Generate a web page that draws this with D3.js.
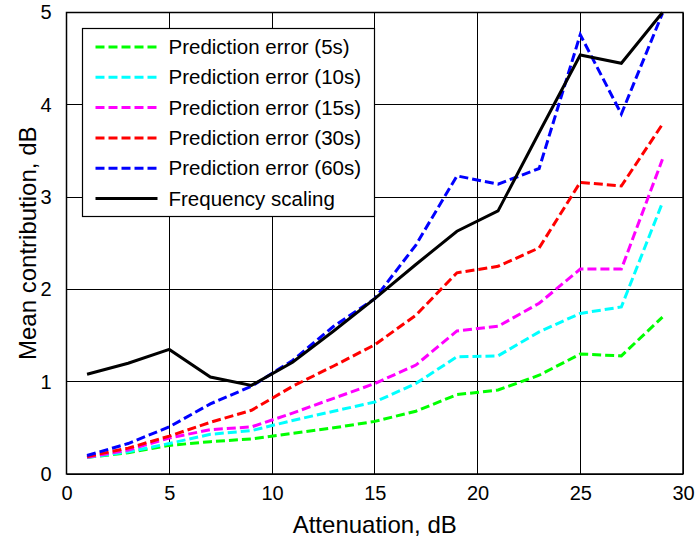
<!DOCTYPE html>
<html>
<head>
<meta charset="utf-8">
<script src="https://cdn.jsdelivr.net/npm/d3@7"></script>
<style>
  body { margin: 0; background: #fff; }
  svg { font-family: Arial, "Liberation Sans", Helvetica, sans-serif; }
</style>
</head>
<body>
<div id="chart"></div>
<script>
// attenuation values (dB)
const attenuation = [1, 3, 5, 7, 9, 11, 13, 15, 17, 19, 21, 23, 25, 27, 29];

const err5s  = [0.18, 0.23, 0.31, 0.35, 0.38, 0.44, 0.50, 0.57, 0.68, 0.86, 0.91, 1.07, 1.30, 1.28, 1.70];
const err10s = [0.18, 0.24, 0.33, 0.43, 0.47, 0.58, 0.68, 0.78, 0.98, 1.27, 1.28, 1.54, 1.74, 1.81, 2.94];
const err15s = [0.18, 0.26, 0.39, 0.48, 0.51, 0.66, 0.82, 0.98, 1.18, 1.55, 1.60, 1.85, 2.22, 2.22, 3.41];
const err30s = [0.19, 0.28, 0.41, 0.56, 0.69, 0.95, 1.17, 1.40, 1.72, 2.18, 2.25, 2.45, 3.16, 3.12, 3.79];
const err60s = [0.20, 0.33, 0.51, 0.76, 0.95, 1.23, 1.60, 1.90, 2.48, 3.23, 3.14, 3.31, 4.76, 3.90, 4.99];
const freqScaling = [1.08, 1.20, 1.35, 1.05, 0.96, 1.21, 1.55, 1.90, 2.27, 2.63, 2.85, 3.70, 4.54, 4.45, 5.00];

const seriesNames = ["Prediction error (5s)", "Prediction error (10s)", "Prediction error (15s)",
                     "Prediction error (30s)", "Prediction error (60s)", "Frequency scaling"];
const seriesColors = ["#00ff00", "#00ffff", "#ff00ff", "#ff0000", "#0000ff", "#000000"];
const seriesValues = [err5s, err10s, err15s, err30s, err60s, freqScaling];

const xTicks = [0, 5, 10, 15, 20, 25, 30];
const yTicks = [0, 1, 2, 3, 4, 5];

const W = 695, H = 539;
const margin = { top: 12.5, right: 12, bottom: 65, left: 66.5 };
const width = W - margin.left - margin.right;
const height = H - margin.top - margin.bottom;

const svg = d3.select("#chart").append("svg")
    .attr("width", W)
    .attr("height", H);

const g = svg.append("g")
    .attr("transform", `translate(${margin.left},${margin.top})`);

const x = d3.scaleLinear().domain([0, 30]).range([0, width]);
const y = d3.scaleLinear().domain([0, 5]).range([height, 0]);

// grid
g.append("g").selectAll("line")
    .data(xTicks)
    .enter().append("line")
    .attr("x1", d => x(d)).attr("x2", d => x(d))
    .attr("y1", 0).attr("y2", height)
    .attr("stroke", "#000").attr("stroke-width", 1).attr("shape-rendering", "crispEdges");

g.append("g").selectAll("line")
    .data(yTicks)
    .enter().append("line")
    .attr("y1", d => y(d)).attr("y2", d => y(d))
    .attr("x1", 0).attr("x2", width)
    .attr("stroke", "#000").attr("stroke-width", 1).attr("shape-rendering", "crispEdges");

// axes (labels only; ticks covered by grid)
const xAxis = g.append("g")
    .attr("transform", `translate(0,${height})`)
    .call(d3.axisBottom(x).tickValues(xTicks).tickFormat(d3.format("d")).tickSize(0).tickPadding(12));
const yAxis = g.append("g")
    .call(d3.axisLeft(y).tickValues(yTicks).tickFormat(d3.format("d")).tickSize(0).tickPadding(15));

[xAxis, yAxis].forEach(a => {
    a.select(".domain").remove();
    a.selectAll("text")
        .style("font-size", "20px")
        .style("font-family", "Arial, 'Liberation Sans', sans-serif")
        .attr("fill", "#000");
});

// frame
g.append("rect")
    .attr("width", width).attr("height", height)
    .attr("fill", "none").attr("stroke", "#000").attr("stroke-width", 1.5);

// lines
const line = d3.line()
    .x((d, i) => x(attenuation[i]))
    .y(d => y(d));

seriesValues.forEach((vals, k) => {
    g.append("path")
        .datum(vals)
        .attr("d", line)
        .attr("fill", "none")
        .attr("stroke", seriesColors[k])
        .attr("stroke-width", 3)
        .attr("stroke-dasharray", k < 5 ? "9,4" : null);
});

// legend
const legend = svg.append("g").attr("transform", "translate(82.5,28.5)");
legend.append("rect")
    .attr("width", 292).attr("height", 188)
    .attr("fill", "#fff").attr("stroke", "#000").attr("stroke-width", 1.2);

seriesNames.forEach((name, k) => {
    const ly = 18.5 + k * 30.3;
    legend.append("line")
        .attr("x1", 13).attr("x2", 75)
        .attr("y1", ly).attr("y2", ly)
        .attr("stroke", seriesColors[k])
        .attr("stroke-width", 3)
        .attr("stroke-dasharray", k < 5 ? "9,4" : null);
    legend.append("text")
        .attr("x", 86).attr("y", ly + 7)
        .style("font-size", "20.5px")
        .text(name);
});

// axis titles
svg.append("text")
    .attr("x", margin.left + width / 2)
    .attr("y", 533)
    .attr("text-anchor", "middle")
    .style("font-size", "24px")
    .text("Attenuation, dB");

svg.append("text")
    .attr("transform", `translate(36,${margin.top + height / 2}) rotate(-90)`)
    .attr("text-anchor", "middle")
    .style("font-size", "24px")
    .text("Mean contribution, dB");
</script>
</body>
</html>
